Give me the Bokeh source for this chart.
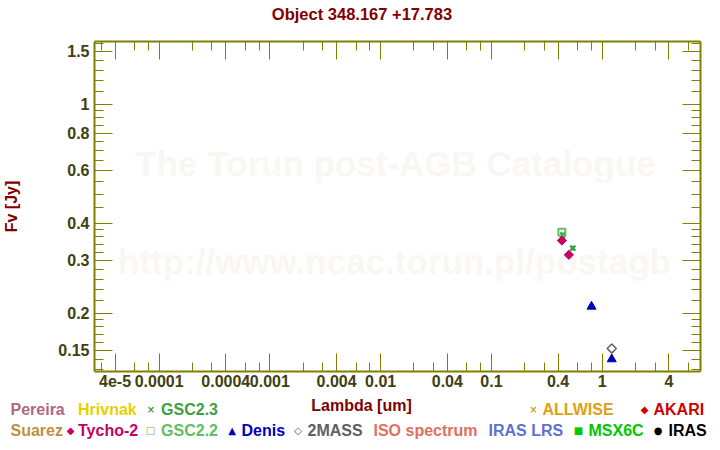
import math
from bokeh.plotting import figure
from bokeh.layouts import column
from bokeh.models import Range1d, LogAxis, FixedTicker, CustomJSTickFormatter, Label, LogScale
from bokeh.core.properties import value
from bokeh.embed import file_html
from bokeh.resources import INLINE

# ---------------- data ----------------
title_text = "Object 348.167 +17.783"
x_label = "Lambda [um]"
y_label = "Fv [Jy]"

x_major = [4e-5, 1e-4, 4e-4, 1e-3, 4e-3, 1e-2, 4e-2, 0.1, 0.4, 1.0, 4.0]
x_major_labels = ["4e-5", "0.0001", "0.0004", "0.001", "0.004", "0.01", "0.04", "0.1", "0.4", "1", "4"]
x_minor = [3e-5, 6e-5, 8e-5, 2e-4, 3e-4, 6e-4, 8e-4, 2e-3, 3e-3, 6e-3, 8e-3,
           0.02, 0.03, 0.06, 0.08, 0.2, 0.3, 0.6, 0.8, 2.0, 3.0, 6.0]
y_major = [0.15, 0.2, 0.3, 0.4, 0.6, 0.8, 1.0, 1.5]
y_major_labels = ["0.15", "0.2", "0.3", "0.4", "0.6", "0.8", "1", "1.5"]
y_minor = [0.13, 0.14, 0.16, 0.17, 0.18, 0.19, 0.22, 0.24, 0.26, 0.28, 0.32, 0.34,
           0.36, 0.38, 0.45, 0.5, 0.55, 0.65, 0.7, 0.75, 0.85, 0.9, 0.95,
           1.1, 1.2, 1.3, 1.4, 1.6]

tycho_x = [0.4325, 0.5003]
tycho_y = [0.3499, 0.3133]
gsc22_x = [0.4325]
gsc22_y = [0.373]
gsc23_x = [0.4416, 0.543]
gsc23_y = [0.3656, 0.330]
denis_x = [0.801, 1.22]
denis_y = [0.2104, 0.1403]
tmass_x = [1.22]
tmass_y = [0.1523]

legend_names = ["Pereira", "Hrivnak", "GSC2.3", "ALLWISE", "AKARI",
                "Suarez", "Tycho-2", "GSC2.2", "Denis", "2MASS",
                "ISO spectrum", "IRAS LRS", "MSX6C", "IRAS"]
legend_colors = ["#b06880", "#e6d000", "#40a040", "#e0a010", "#d00000",
                 "#c09040", "#c80064", "#60c060", "#0000c0", "#606060",
                 "#e07060", "#6070d0", "#00c800", "#000000"]
legend_marks = ["", "", "\u00d7", "\u00d7", "\u25c6",
                "", "\u25c6", "\u25a1", "\u25b2", "\u25c7",
                "", "", "\u25a0", "\u25cf"]

# ---------------- layout/style ----------------
W = 720
TOP_H, MAIN_H, LEG_H = 28, 364, 58
FL, FR = 93, 700
FONT = "Liberation Sans"
OLIVE = "#808000"
TICKLAB = "#404010"
MAROON = "#800000"


def no_align(fig):
    if "frame_align" in fig.properties():
        fig.frame_align = False


# --- title strip ---
tfig = figure(width=W, height=TOP_H, x_range=Range1d(0, W), y_range=Range1d(TOP_H, 0),
              x_axis_type=None, y_axis_type=None, output_backend="svg",
              toolbar_location=None, min_border=0)
tfig.outline_line_color = None
tfig.grid.visible = False
no_align(tfig)
tfig.text(x=[361.5], y=[13], text=[title_text], text_font=value(FONT),
          text_font_style="bold", text_font_size="16.5px", text_color=MAROON,
          text_align="center", text_baseline="middle")

# --- main plot ---
p = figure(width=W, height=MAIN_H, x_axis_type=None, y_axis_type=None,
           x_range=Range1d(2.61e-5, 7.72), y_range=Range1d(0.1276, 1.62),
           output_backend="svg", toolbar_location=None,
           min_border_left=FL, min_border_right=W - FR,
           min_border_top=13, min_border_bottom=21)
p.x_scale = LogScale()
p.y_scale = LogScale()
p.outline_line_color = None
p.grid.visible = False
no_align(p)


def make_fmt(vals, labs):
    return CustomJSTickFormatter(args=dict(vals=vals, labs=labs), code="""
        for (let i = 0; i < vals.length; i++) {
            if (Math.abs(Math.log10(tick) - Math.log10(vals[i])) < 1e-6) return labs[i];
        }
        return "";
    """)


blank_fmt = CustomJSTickFormatter(code="return '';")


def style_axis(ax, labels=True):
    ax.axis_line_color = OLIVE
    ax.axis_line_width = 2
    ax.major_tick_line_color = OLIVE
    ax.minor_tick_line_color = OLIVE
    ax.major_tick_line_width = 1
    ax.minor_tick_line_width = 1
    ax.major_tick_in = 18
    ax.major_tick_out = 0
    ax.minor_tick_in = 9
    ax.minor_tick_out = 0
    ax.major_label_text_font = FONT
    ax.major_label_text_font_style = "bold"
    ax.major_label_text_font_size = "16px"
    ax.major_label_text_color = TICKLAB
    ax.major_label_standoff = 5 if labels else 0


xt = FixedTicker(ticks=x_major, minor_ticks=x_minor)
yt = FixedTicker(ticks=y_major, minor_ticks=y_minor)

xb = LogAxis(ticker=xt, formatter=make_fmt(x_major, x_major_labels))
style_axis(xb)
xb.major_label_standoff = 3
p.add_layout(xb, "below")
xa = LogAxis(ticker=xt, formatter=blank_fmt)
style_axis(xa, labels=False)
p.add_layout(xa, "above")
yl = LogAxis(ticker=yt, formatter=make_fmt(y_major, y_major_labels))
style_axis(yl)
yl.axis_label = y_label
yl.axis_label_text_font = FONT
yl.axis_label_text_font_style = "bold"
yl.axis_label_text_font_size = "16px"
yl.axis_label_text_color = MAROON
yl.axis_label_standoff = 35
p.add_layout(yl, "left")
yr = LogAxis(ticker=yt, formatter=blank_fmt)
style_axis(yr, labels=False)
p.add_layout(yr, "right")

# watermark (screen units relative to the frame)
for txt, cx, by in [("The Torun post-AGB Catalogue", 394, 163),
                    ("http://www.ncac.torun.pl/postagb", 393, 261)]:
    p.add_layout(Label(x=cx - FL, y=330 - (by - 41), x_units="screen", y_units="screen",
                       text=txt, text_font=FONT, text_font_style="bold",
                       text_font_size="35px", text_color="#faf7f2",
                       text_align="center", text_baseline="middle",
                       level="underlay"))

# data
p.scatter(gsc23_x, gsc23_y, marker="x", size=7, line_color="#40a040", line_width=2.5)
p.scatter(gsc22_x, gsc22_y, marker="square", size=7, fill_color=None,
          line_color="#60c060", line_width=2)
p.scatter(tycho_x, tycho_y, marker="square", angle=math.pi / 4, size=6.5,
          fill_color="#c80064", line_color="#c80064", line_width=1)
p.scatter(denis_x, denis_y, marker="triangle", size=9,
          fill_color="#0000c0", line_color="#0000c0", line_width=1)
p.scatter(tmass_x, tmass_y, marker="square", angle=math.pi / 4, size=6.5,
          fill_color=None, line_color="#606060", line_width=1.5)

# --- legend strip (with x axis title) ---
lfig = figure(width=W, height=LEG_H, x_range=Range1d(0, W), y_range=Range1d(LEG_H, 0),
              x_axis_type=None, y_axis_type=None, output_backend="svg",
              toolbar_location=None, min_border=0)
lfig.outline_line_color = None
lfig.grid.visible = False
no_align(lfig)
lfig.text(x=[361], y=[13], text=[x_label], text_font=value(FONT),
          text_font_style="bold", text_font_size="16px", text_color=MAROON,
          text_align="center", text_baseline="middle")

# (text x start, marker x centre, row centre y) within the legend strip
R1, R2 = 17, 38
leg_pos = [(10, None, R1), (77.5, None, R1), (160.6, 150.5, R1), (542, 533, R1), (653, 644, R1),
           (10, None, R2), (77.5, 70, R2), (160.6, 150, R2), (241, 231.7, R2), (307, 297.6, R2),
           (373, None, R2), (488, None, R2), (588, 578, R2), (668, 657.6, R2)]
lfig.text(x=[q[0] for q in leg_pos], y=[q[2] for q in leg_pos], text=legend_names,
          text_color=legend_colors, text_font=value(FONT), text_font_style="bold",
          text_font_size="16px", text_align="left", text_baseline="middle")
mk_idx = [i for i, m in enumerate(legend_marks) if m]
lfig.text(x=[leg_pos[i][1] for i in mk_idx], y=[leg_pos[i][2] for i in mk_idx],
          text=[legend_marks[i] for i in mk_idx],
          text_color=[legend_colors[i] for i in mk_idx], text_font=value("DejaVu Sans"),
          text_font_style="bold", text_font_size="10px", text_align="center",
          text_baseline="middle")

layout = column(tfig, p, lfig, spacing=0)
open("out.html", "w").write(file_html(layout, INLINE))
